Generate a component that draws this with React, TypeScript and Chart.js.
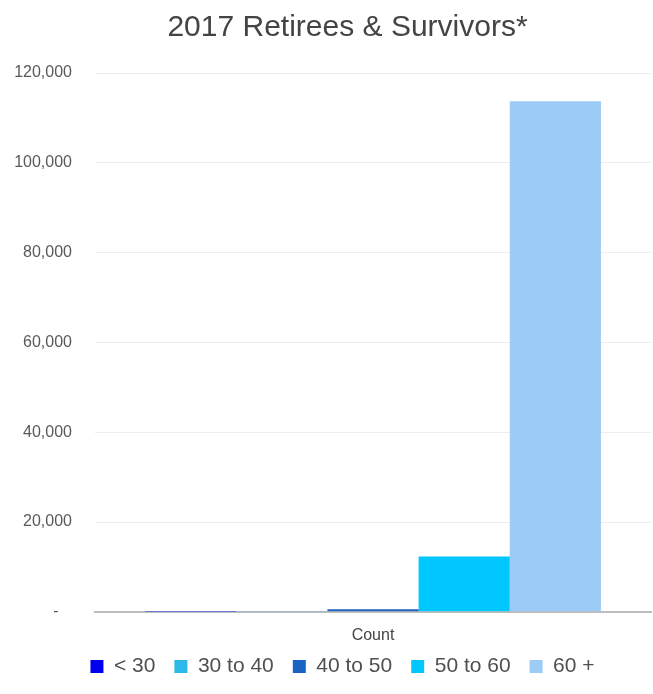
import React, { useEffect, useRef } from "react";
import { Chart, registerables } from "chart.js";

Chart.register(...registerables);

const titleText = "2017 Retirees & Survivors*";
const categories = ["Count"];
const seriesNames = ["< 30", "30 to 40", "40 to 50", "50 to 60", "60 +"];
const seriesColors = ["#0000ee", "#2cb8e8", "#1a63c4", "#00c8ff", "#9dcbf8"];
const under30 = [10];
const from30to40 = [50];
const from40to50 = [550];
const from50to60 = [12300];
const over60 = [113700];
const seriesValues = [under30, from30to40, from40to50, from50to60, over60];
const yMax = 120000;
const yStep = 20000;

const shiftPlugin = {
  id: "shiftBlocks",
  afterLayout(chart: any) {
    const t = chart.titleBlock;
    if (t) {
      t.left += 22;
      t.right += 22;
    }
    const l = chart.legend;
    if (l) {
      l.left += 17;
      l.right += 17;
      l.top -= 22;
      l.bottom -= 22;
    }
  },
};

export default function App() {
  const ref = useRef<HTMLCanvasElement | null>(null);
  useEffect(() => {
    document.body.style.margin = "0";
    const font = "'Liberation Sans', Arial, sans-serif";
    const chart = new Chart(ref.current as HTMLCanvasElement, {
      type: "bar",
      data: {
        labels: categories,
        datasets: seriesNames.map((name, i) => ({
          label: name,
          data: seriesValues[i],
          backgroundColor: seriesColors[i],
          borderWidth: 0,
          categoryPercentage: 0.82,
          barPercentage: 1,
        })),
      },
      plugins: [shiftPlugin],
      options: {
        responsive: false,
        animation: false,
        layout: { padding: { left: 0, right: 2, top: 0, bottom: -15 } },
        plugins: {
          title: {
            display: true,
            text: titleText,
            color: "#444444",
            font: { family: font, size: 30, weight: "normal" },
            padding: { top: 10, bottom: 27 },
          },
          legend: {
            position: "bottom",
            labels: {
              color: "#505050",
              font: { family: font, size: 21 },
              boxWidth: 13,
              boxHeight: 13,
              padding: 19,
            },
          },
          tooltip: { enabled: false },
        },
        scales: {
          x: {
            grid: { display: false, drawTicks: false },
            border: { display: true, color: "#bdbdbd", width: 2 },
            ticks: { color: "#444444", font: { family: font, size: 16 }, padding: 14 },
          },
          y: {
            min: 0,
            max: yMax,
            afterFit: (s: any) => {
              s.width = 95;
            },
            grid: { color: "#ededed", drawTicks: false },
            border: { display: false },
            ticks: {
              stepSize: yStep,
              color: "#595959",
              padding: 23,
              font: { family: font, size: 16 },
              callback: (v: any) => (Number(v) === 0 ? "-   " : Number(v).toLocaleString("en-US")),
            },
          },
        },
      },
    });
    return () => chart.destroy();
  }, []);
  return <canvas ref={ref} width={653} height={694} style={{ display: "block" }} />;
}
